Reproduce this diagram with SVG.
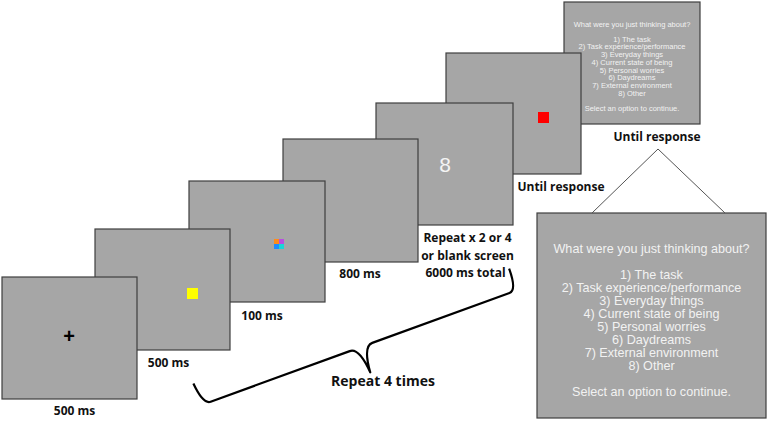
<svg xmlns="http://www.w3.org/2000/svg" width="768" height="422" viewBox="0 0 768 422">
<style>
.scr{fill:#a6a6a6;stroke:#3f3f3f;stroke-width:1.2}
.lbl{font-family:"Open Sans","Liberation Sans",sans-serif;font-weight:bold;font-size:12px;fill:#111;text-anchor:middle}
.q{font-family:"Liberation Sans",Arial,sans-serif;fill:#f2f2f2;text-anchor:middle}
.qs{font-size:7.5px}
.qb{font-size:12.6px}
</style>
<rect width="768" height="422" fill="#fff"/>
<g id="screen7">
<rect class="scr" x="564" y="2" width="136" height="122"/>
<g class="q qs">
<text x="632" y="26.5">What were you just thinking about?</text>
<text x="632" y="41.5">1) The task</text>
<text x="632" y="49.2">2) Task experience/performance</text>
<text x="632" y="57">3) Everyday things</text>
<text x="632" y="64.7">4) Current state of being</text>
<text x="632" y="72.5">5) Personal worries</text>
<text x="632" y="80.2">6) Daydreams</text>
<text x="632" y="88">7) External environment</text>
<text x="632" y="95.7">8) Other</text>
<text x="632" y="111">Select an option to continue.</text>
</g>
<text class="lbl" x="657" y="140.5">Until response</text>
</g>
<g id="screen6">
<rect class="scr" x="446" y="53" width="135" height="121"/>
<rect x="538" y="112" width="11" height="11" fill="#ff0000"/>
<text class="lbl" x="561" y="191">Until response</text>
</g>
<g id="screen5">
<rect class="scr" x="376" y="103" width="137" height="122"/>
<text x="445" y="172" font-family="Liberation Sans,Arial,sans-serif" font-size="21" fill="#f4f4f4" text-anchor="middle">8</text>
<text class="lbl" x="467.5" y="242">Repeat x 2 or 4</text>
<text class="lbl" x="467.5" y="259.5">or blank screen</text>
<text class="lbl" x="465.5" y="277">6000 ms total</text>
</g>
<g id="screen4">
<rect class="scr" x="283" y="139" width="135" height="123"/>
<text class="lbl" x="360" y="278">800 ms</text>
</g>
<g id="screen3">
<rect class="scr" x="189" y="181" width="136" height="121"/>
<rect x="274" y="239" width="5" height="5" fill="#ff8c1a"/>
<rect x="279" y="239" width="5" height="5" fill="#b84fe0"/>
<rect x="274" y="244" width="5" height="5" fill="#1e8cff"/>
<rect x="279" y="244" width="5" height="5" fill="#1ad6d6"/>
<text class="lbl" x="262" y="320">100 ms</text>
</g>
<g id="screen2">
<rect class="scr" x="95" y="229" width="135" height="121"/>
<rect x="187" y="288" width="11" height="11" fill="#ffff00"/>
<text class="lbl" x="168.5" y="367">500 ms</text>
</g>
<g id="screen1">
<rect class="scr" x="2" y="277" width="135" height="122"/>
<text x="69" y="343" font-family="Liberation Sans,Arial,sans-serif" font-weight="bold" font-size="20" fill="#000" text-anchor="middle">+</text>
<text class="lbl" x="74.5" y="415">500 ms</text>
</g>
<g id="question">
<rect class="scr" x="537" y="213" width="229" height="205"/>
<g class="q qb">
<text x="651.5" y="253">What were you just thinking about?</text>
<text x="651.5" y="279">1) The task</text>
<text x="651.5" y="292">2) Task experience/performance</text>
<text x="651.5" y="305">3) Everyday things</text>
<text x="651.5" y="318">4) Current state of being</text>
<text x="651.5" y="331">5) Personal worries</text>
<text x="651.5" y="344">6) Daydreams</text>
<text x="651.5" y="357">7) External environment</text>
<text x="651.5" y="370">8) Other</text>
<text x="651.5" y="396">Select an option to continue.</text>
</g>
</g>
<g id="connectors" fill="none">
<polyline points="592,213 658,149 725,213" stroke="#555" stroke-width="1"/>
<path transform="translate(361,347) rotate(-20)" d="M -170,-23 Q -168,0 -160,0 L -12,0 Q -2,0 0,27 Q 2,0 12,0 L 158,0 Q 166,0 166,-23" stroke="#000" stroke-width="2.2" stroke-linejoin="round"/>
</g>
<text class="lbl" x="383" y="386" style="font-size:14px">Repeat 4 times</text>
</svg>
